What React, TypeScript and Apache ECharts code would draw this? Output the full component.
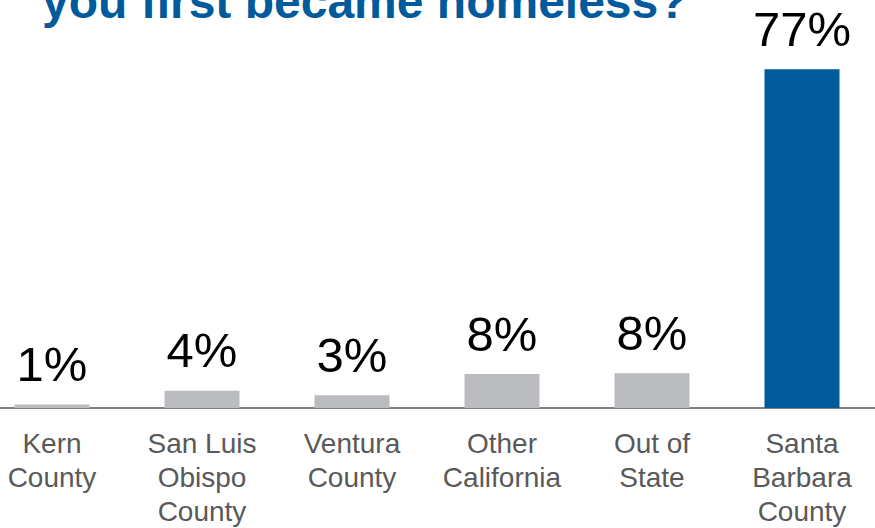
import React, { useEffect, useRef } from "react";
import * as echarts from "echarts";

const categories = [
  "Kern\nCounty",
  "San Luis\nObispo\nCounty",
  "Ventura\nCounty",
  "Other\nCalifornia",
  "Out of\nState",
  "Santa\nBarbara\nCounty",
];
const values = [0.8, 3.9, 2.9, 7.7, 7.9, 77];
const valueLabels = ["1%", "4%", "3%", "8%", "8%", "77%"];
const barColors = ["#BBBCC0", "#BBBCC0", "#BBBCC0", "#BBBCC0", "#BBBCC0", "#005A9C"];
const titleText = "you first became homeless?";

const FONT = "'Liberation Sans', Arial, sans-serif";
const SHIFT = 23;

export default function App() {
  const ref = useRef<HTMLDivElement>(null);
  useEffect(() => {
    if (!ref.current) return;
    const chart = echarts.init(ref.current, undefined, { renderer: "svg" });
    chart.setOption({
      animation: false,
      backgroundColor: "#FFFFFF",
      grid: { left: 0, right: 0, top: 12, bottom: 119, containLabel: false },
      xAxis: {
        type: "category",
        data: categories,
        axisLine: { show: true, lineStyle: { color: "#808080", width: 2 } },
        axisTick: { show: false },
        axisLabel: {
          interval: 0,
          margin: 18,
          color: "#595959",
          fontSize: 28,
          lineHeight: 34,
          fontFamily: FONT,
        },
      },
      yAxis: {
        type: "value",
        min: 0,
        max: 90,
        show: false,
        splitLine: { show: false },
      },
      graphic: [
        {
          type: "text",
          left: 42 + SHIFT,
          y: 1,
          style: {
            text: titleText,
            fill: "#005A9C",
            font: `bold 48px ${FONT}`,
            verticalAlign: "middle",
          },
        },
      ],
      series: [
        {
          type: "bar",
          barWidth: 75,
          data: values.map((v, i) => ({
            value: v,
            itemStyle: { color: barColors[i] },
            label: {
              show: true,
              position: "top",
              distance: 16,
              formatter: valueLabels[i],
              color: "#000000",
              fontSize: 49,
              fontFamily: FONT,
            },
          })),
        },
      ],
    });
    return () => chart.dispose();
  }, []);
  return (
    <div
      ref={ref}
      style={{ position: "fixed", left: -SHIFT, top: 0, width: 900, height: 528 }}
    />
  );
}
